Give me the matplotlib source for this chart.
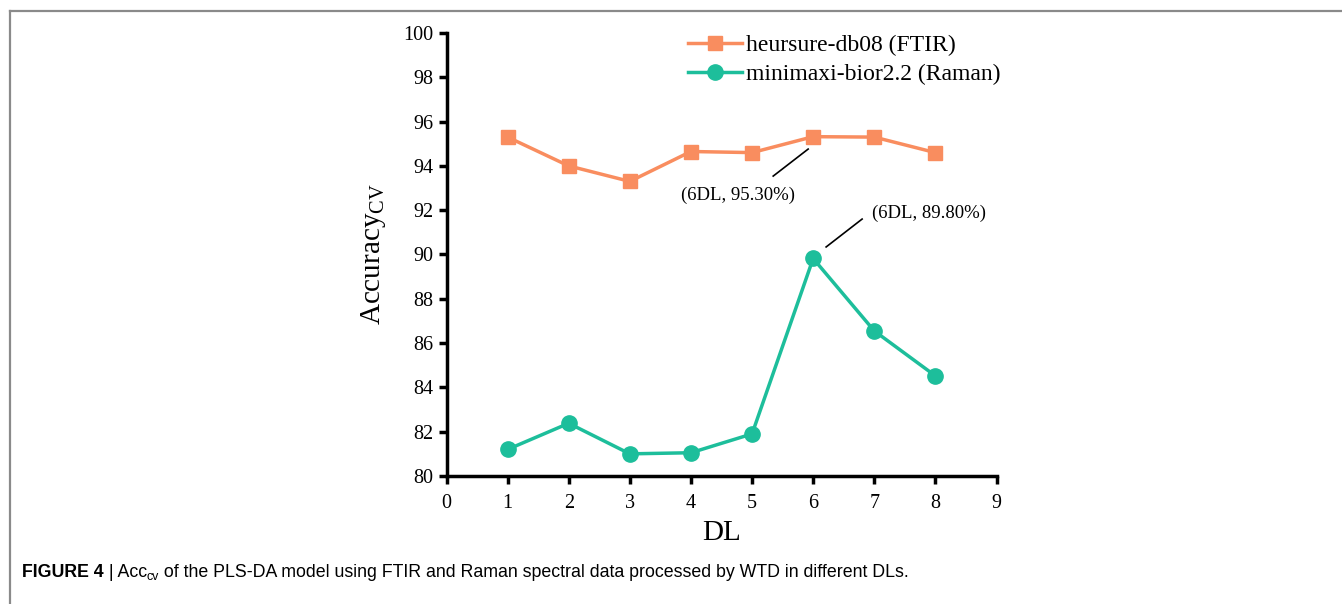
import matplotlib
matplotlib.use("Agg")
import matplotlib.pyplot as plt
from matplotlib.lines import Line2D

plt.rcParams['font.family'] = ['Liberation Serif', 'DejaVu Serif']
plt.rcParams['mathtext.fontset'] = 'custom'
plt.rcParams['mathtext.rm'] = 'Liberation Serif'
plt.rcParams['mathtext.it'] = 'Liberation Serif:italic'

dl = [1, 2, 3, 4, 5, 6, 7, 8]
ftir = [95.3, 94.0, 93.3, 94.65, 94.6, 95.32, 95.3, 94.6]
raman = [81.2, 82.38, 81.0, 81.05, 81.9, 89.82, 86.55, 84.52]
labels = ["heursure-db08 (FTIR)", "minimaxi-bior2.2 (Raman)"]
xticks = list(range(0, 10))
yticks = list(range(80, 101, 2))
note_ftir = "(6DL, 95.30%)"
note_raman = "(6DL, 89.80%)"

c_ftir = '#F98D5F'
c_raman = '#1DBE9B'

W, H = 1342, 604
fig = plt.figure(figsize=(W / 100, H / 100), dpi=100)
ax = fig.add_axes([446.5 / W, 1 - 476 / H, 550 / W, 443 / H])

ax.plot(dl, ftir, color=c_ftir, lw=2.5, marker='s', ms=10, label=labels[0], clip_on=False)
ax.plot(dl, raman, color=c_raman, lw=2.5, marker='o', ms=11, label=labels[1], clip_on=False)

ax.set_xlim(0, 9)
ax.set_ylim(80, 100)
ax.set_xticks(xticks)
ax.set_yticks(yticks)
for s in ['top', 'right']:
    ax.spines[s].set_visible(False)
for s in ['left', 'bottom']:
    ax.spines[s].set_linewidth(2.5)
ax.tick_params(direction='out', width=2.5, length=6, labelsize=14.5)
ax.tick_params(axis='x', pad=7)
ax.tick_params(axis='y', pad=3.5)

ax.set_xlabel('DL', fontsize=21, labelpad=5)
ax.set_ylabel(r'Accuracy$_{\mathrm{CV}}$', fontsize=21, labelpad=11)

leg = fig.legend(loc='upper left', bbox_to_anchor=(688 / W, 1 - 35 / H), frameon=False,
                 fontsize=17, handlelength=2.3, handletextpad=0.17, labelspacing=0.3,
                 borderaxespad=0, borderpad=0)

# annotations
ax.plot([5.346, 5.918], [93.54, 94.76], color='black', lw=1.2)
ax.text(4.774, 92.69, note_ftir, fontsize=13.5, ha='center', va='center')
ax.plot([6.212, 6.801], [90.34, 91.60], color='black', lw=1.2)
ax.text(7.888, 91.87, note_raman, fontsize=13.5, ha='center', va='center')

# frame lines
fig.add_artist(Line2D([9.5 / W, 1.0], [1 - 10.5 / H, 1 - 10.5 / H], color='#8a8a8a', lw=1.6))
fig.add_artist(Line2D([9.5 / W, 9.5 / W], [0, 1 - 10.5 / H], color='#8a8a8a', lw=1.6))

# caption, pieces placed one after another
sans = ['Liberation Sans', 'DejaVu Sans']
renderer = fig.canvas.get_renderer()
fs = 12.8
base_y = 1 - 577 / H
x = 22 / W
pieces = [
    ('FIGURE 4', 'bold', fs, 0),
    (' | Acc', 'normal', fs, 0),
    ('cv', 'normal', fs * 0.7, -3),
    (' of the PLS-DA model using FTIR and Raman spectral data processed by WTD in different DLs.', 'normal', fs, 0),
]
for txt, wt, size, dy in pieces:
    t = fig.text(x, base_y + dy / H, txt, fontsize=size, fontweight=wt, family=sans,
                 va='baseline', ha='left')
    bb = t.get_window_extent(renderer)
    x = bb.x1 / W

fig.savefig('out.png', dpi=100)
